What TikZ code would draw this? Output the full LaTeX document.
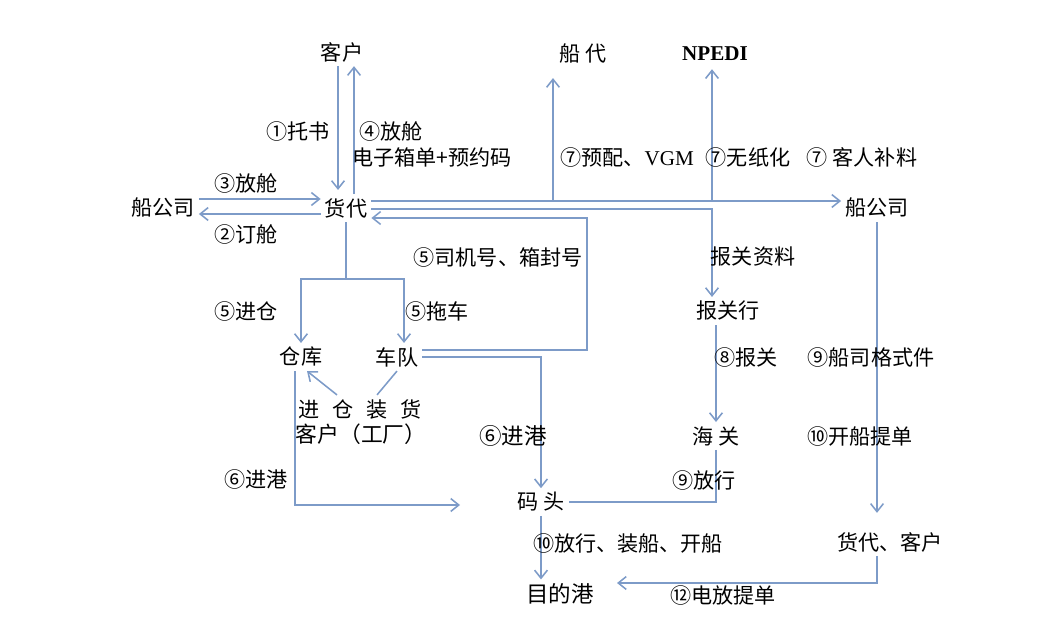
\documentclass[tikz,border=0pt]{standalone}
\usepackage{fontspec}
\setmainfont{Liberation Serif}
\newfontfamily\cjk{Noto Sans CJK SC}
\usetikzlibrary{arrows.meta}
\definecolor{linkblue}{RGB}{125,155,200}

\tikzset{
  link/.style={draw=linkblue, line width=1.1pt},
  big/.style={font=\cjk\fontsize{16}{19}\selectfont}
}

\begin{document}
\begin{tikzpicture}[x=0.025cm,y=-0.025cm,inner sep=1mm,
  font=\cjk\fontsize{15}{18}\selectfont,
  >={Straight Barb[length=2mm,width=3.2mm]}]

\useasboundingbox (0,0) rectangle (1040,630);

% places
\node(kh) at (342,52) {客户};
\node(hd) at (346,208) {货代};
\node(cgsl) at (163,208) {船公司};
\node(cd) at (583,54) {船 代};
\node(npedi) at (715,54) {\rmfamily\bfseries NPEDI};
\node(cgsr) at (877,208) {船公司};
\node(bgh) at (728,311) {报关行};
\node(ck) at (301,357) {仓库};
\node(cdui) at (397,357) {车队};
\node(jczh) at (360,409) {进\hspace{9pt}仓\hspace{9pt}装\hspace{9pt}货};
\node[font=\cjk\fontsize{15.5}{18}\selectfont](gc) at (361,434) {客户（工厂）};
\node(hg) at (716,436) {海 关};
\node(mt) at (541,502) {码 头};
\node(hdkh) at (890,542) {货代、客户};
\node[big](mdg) at (560,594) {目的港};

% lanes and corners
\coordinate(a1) at (338,0);
\coordinate(a2) at (354,0);
\coordinate(b1) at (0,199);
\coordinate(b2) at (0,214);
\coordinate(b3) at (0,201);
\coordinate(b4) at (0,209);
\coordinate(cdup) at (553,201);
\coordinate(edup) at (712,201);
\coordinate(sj1) at (587,350);
\coordinate(sj2) at (587,218);
\coordinate(fk1) at (301,279);
\coordinate(fk2) at (404,279);
\coordinate(jg) at (460,505);
\coordinate(dz) at (617,583);

\draw[link,->] (kh.south -| a1) -- ([yshift=0.1cm]hd.north -| a1);
\draw[link,->] (hd.north -| a2) -- (kh.south -| a2);
\draw[link,->] (cgsl.east |- b1) -- (hd.west |- b1);
\draw[link,->] (hd.west |- b2) -- (cgsl.east |- b2);
\draw[link,->] (hd.east |- b3) -- (cgsr.west |- b3);
\draw[link,->] (cdup) -- ([yshift=-0.25cm]cdup |- cd.south);
\draw[link,->] (edup) -- ([yshift=-0.1cm]edup |- npedi.south);
\draw[link,->] (hd.east |- b4) -| (edup |- bgh.north);
\draw[link,->] (cdui.east |- sj1) -- (sj1) -- (sj2) -- (hd.east |- sj2);
\draw[link] (hd.south) -- (hd.south |- fk1);
\draw[link,<->] (ck.north) -- (fk1) -- (fk2) -- (fk2 |- cdui.north);
\draw[link,->] (cdui.east) -| (mt.north);
\draw[link,->] ([xshift=-0.15cm]ck.south) |- (jg);
\draw[link,->] ([xshift=-0.575cm]jczh.north) -- ([xshift=0.15cm]ck.south);
\draw[link] (cdui.south) -- ([xshift=0.425cm]jczh.north);
\draw[link,->] (bgh.south -| hg) -- (hg.north);
\draw[link] (hg.south) |- (mt.east);
\draw[link,->] (cgsr.south) -- ([yshift=0.375cm]cgsr.south |- hdkh.north);
\draw[link,->] ([xshift=-0.325cm]hdkh.south) |- (dz);
\draw[link,->] (mt.south) -- (mt.south |- mdg.north);

% labels
\node(l1) at (298,131) {①托书};
\node(l4) at (391,131) {④放舱};
\node(l4b) at (432,157) {电子箱单+预约码};
\node(l3) at (246,183) {③放舱};
\node(l2) at (246,234) {②订舱};
\node(l5a) at (498,257) {⑤司机号、箱封号};
\node(l7a) at (627,157) {⑦预配、{\rmfamily VGM}};
\node(l7b) at (748,157) {⑦无纸化};
\node(l7c) at (862,157) {⑦ 客人补料};
\node(lbg) at (753,257) {报关资料};
\node(l5b) at (246,311) {⑤进仓};
\node(l5c) at (437,311) {⑤拖车};
\node[big](l6a) at (513,436) {⑥进港};
\node(l6b) at (256,479) {⑥进港};
\node(l8) at (746,357) {⑧报关};
\node(l9a) at (871,357) {⑨船司格式件};
\node(l10a) at (860,436) {⑩开船提单};
\node(l9b) at (704,480) {⑨放行};
\node(l10b) at (628,543) {⑩放行、装船、开船};
\node(l12) at (723,595) {⑫电放提单};

\end{tikzpicture}
\end{document}
